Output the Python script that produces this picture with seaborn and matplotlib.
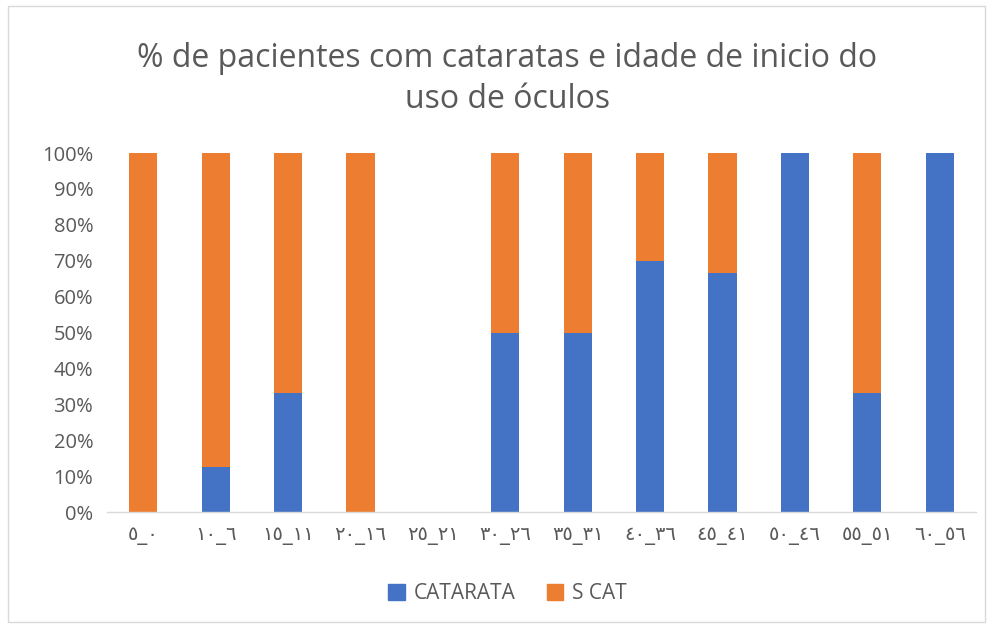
import matplotlib
matplotlib.use("Agg")
import matplotlib.pyplot as plt
import seaborn as sns
import pandas as pd
import numpy as np
from matplotlib.patches import Patch, Rectangle

categories = ["٥_٠", "١٠_٦", "١٥_١١", "٢٠_١٦", "٢٥_٢١", "٣٠_٢٦",
              "٣٥_٣١", "٤٠_٣٦", "٤٥_٤١", "٥٠_٤٦", "٥٥_٥١", "٦٠_٥٦"]
catarata = [0, 12.5, 33.3, 0, 0, 50, 50, 70, 66.7, 100, 33.3, 100]
s_cat = [100, 87.5, 66.7, 100, 0, 50, 50, 30, 33.3, 0, 66.7, 0]
yticks = [0, 10, 20, 30, 40, 50, 60, 70, 80, 90, 100]

sns.set_theme(style="white")
plt.rcParams['font.family'] = ['Open Sans', 'DejaVu Sans']

blue = "#4472C4"
orange = "#ED7D31"
gray = "#595959"

df = pd.DataFrame({"cat": categories, "CATARATA": catarata, "S CAT": s_cat})
df["total"] = df["CATARATA"] + df["S CAT"]

fig = plt.figure(figsize=(9.93, 6.26), dpi=100)
fig.patches.append(Rectangle((0.008, 0.006), 0.984, 0.985, transform=fig.transFigure,
                             fill=False, edgecolor="#D9D9D9", linewidth=1))
ax = fig.add_axes([0.1078, 0.182, 0.875, 0.5735])

sns.barplot(data=df, x="cat", y="total", color=orange, width=0.39, ax=ax,
            saturation=1, linewidth=0)
sns.barplot(data=df, x="cat", y="CATARATA", color=blue, width=0.39, ax=ax,
            saturation=1, linewidth=0)

ax.set_ylim(0, 100)
ax.set_xlim(-0.5, len(categories) - 0.5)
ax.set_yticks(yticks)
ax.set_yticklabels([f"{v}%" for v in yticks], color=gray, fontsize=14.5)
ax.set_xticks(range(len(categories)))
ax.set_xticklabels(categories, color=gray, fontsize=14, family=['DejaVu Sans'])
ax.set_xlabel("")
ax.set_ylabel("")
ax.tick_params(axis="y", length=0, pad=10)
ax.tick_params(axis="x", length=0, pad=10)
for s in ["top", "right", "left"]:
    ax.spines[s].set_visible(False)
ax.spines["bottom"].set_color("#D9D9D9")
ax.spines["bottom"].set_linewidth(1)

fig.text(0.511, 0.874, "% de pacientes com cataratas e idade de inicio do\nuso de óculos",
         ha="center", va="center", fontsize=23, color=gray, linespacing=1.3)

handles = [Patch(color=blue, label="CATARATA"), Patch(color=orange, label="S CAT")]
fig.legend(handles=handles, loc="center", bbox_to_anchor=(0.511, 0.052), ncol=2,
           frameon=False, fontsize=15, labelcolor=gray, handlelength=0.8,
           handleheight=0.8, columnspacing=1.5, handletextpad=0.4)

fig.savefig("out.png", dpi=100)
